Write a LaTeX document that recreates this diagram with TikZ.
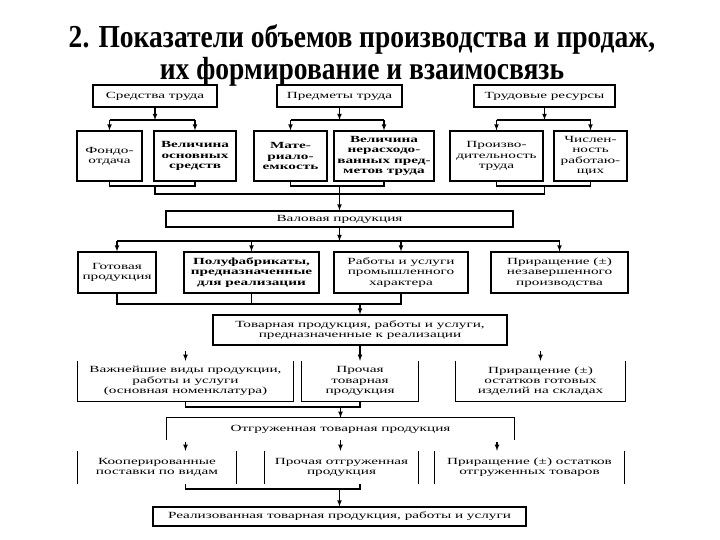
\documentclass[tikz,border=0pt]{standalone}
\usepackage{fontspec}
\setmainfont{Liberation Serif}
\newfontfamily\titlefont[FakeStretch=0.86]{Liberation Serif}
\newfontfamily\boxfont[FakeStretch=1.62]{Liberation Serif}
\usepackage{tikz}
\usetikzlibrary{arrows}

\begin{document}
\begin{tikzpicture}[x=1pt,y=-1pt,
		blk/.style={draw,line width=1.1pt,inner sep=1pt,align=center,font=\boxfont\fontsize{9.4}{10.3}\selectfont},
		blkb/.style={blk,font=\boxfont\bfseries\fontsize{9.4}{10.3}\selectfont},
		txt/.style={inner sep=1pt,align=center,font=\boxfont\fontsize{9.4}{10.3}\selectfont},
		arr/.style={->,>=latex,line width=1.1pt},
		ln/.style={line width=1.1pt}]
	
	\useasboundingbox (0,0) rectangle (720,540);
	\fill[white] (0,0) rectangle (720,540);
	
	\node[inner sep=0pt,align=center,font=\titlefont\bfseries\fontsize{32}{32}\selectfont] (title) at (362,55) {2. Показатели объемов производства и продаж,\\их формирование и взаимосвязь};
	
	\coordinate (bus1) at (0,120);
	\coordinate (lev2) at (0,186);
	\coordinate (gath) at (0,194);
	\coordinate (bus3) at (0,241);
	\coordinate (lev4) at (0,304);
	\coordinate (lev6) at (0,407);
	\coordinate (lev8) at (0,489);
	
	\begin{scope}
		\node[blk,minimum width=124pt,minimum height=22pt] (sredstva) at (155,96) {Средства труда};
		\node[blk,minimum width=125pt,minimum height=22pt] (predmety) at (339.5,96) {Предметы труда};
		\node[blk,minimum width=141pt,minimum height=22pt] (trud) at (544.5,96) {Трудовые ресурсы};
		
		\node[blk,minimum width=65pt,minimum height=50pt] (fondo) at (109.5,156) {Фондо-\\отдача};
		\node[blkb,minimum width=82pt,minimum height=50pt] (velosn) at (195,156) {Величина\\основных\\средств};
		\node[blkb,minimum width=73pt,minimum height=50pt] (mater) at (290.5,156) {Мате-\\риало-\\емкость};
		\node[blkb,minimum width=100pt,minimum height=50pt] (velner) at (384,156) {Величина\\нерасходо-\\ванных пред-\\метов труда};
		\node[blk,minimum width=93pt,minimum height=50pt] (proizv) at (496.5,156) {Произво-\\дительность\\труда};
		\node[blk,minimum width=73pt,minimum height=50pt] (chisl) at (590.5,156) {Числен-\\ность\\работаю-\\щих};
		
		\draw[arr] (sredstva) -- (sredstva |- bus1);
		\draw[ln] (fondo |- bus1) -- (velosn |- bus1);
		\draw[arr] (fondo |- bus1) -- (fondo);
		\draw[arr] (velosn |- bus1) -- (velosn);
		
		\draw[arr] (predmety) -- (predmety |- bus1);
		\draw[ln] (mater |- bus1) -- (velner |- bus1);
		\draw[arr] (mater |- bus1) -- (mater);
		\draw[arr] (velner |- bus1) -- (velner);
		
		\draw[arr] (trud) -- (trud |- bus1);
		\draw[ln] (proizv |- bus1) -- (chisl |- bus1);
		\draw[arr] (proizv |- bus1) -- (proizv);
		\draw[arr] (chisl |- bus1) -- (chisl);
		
		\draw[ln] (fondo) -- (fondo |- lev2) -- (velosn |- lev2) -- (velosn);
		\draw[ln] (mater) -- (mater |- lev2) -- (velner |- lev2) -- (velner);
		\draw[ln] (proizv) -- (proizv |- lev2) -- (chisl |- lev2) -- (chisl);
		\draw[ln] (sredstva |- lev2) -- (sredstva |- gath) -- (trud |- gath) -- (trud |- lev2);
		\draw[ln] (predmety |- lev2) -- (predmety |- gath);
	\end{scope}
	
	\node[blk,minimum width=347pt,minimum height=16pt] (val) at (339.5,219) {Валовая продукция};
	\draw[arr] (val |- gath) -- (val);
	
	\node[blk,minimum width=78pt,minimum height=41pt] (gotov) at (117,272.5) {Готовая\\продукция};
	\node[blkb,minimum width=135pt,minimum height=41pt] (polufab) at (251.5,272.5) {Полуфабрикаты,\\предназначенные\\для реализации};
	\node[blk,minimum width=134pt,minimum height=41pt] (raboty) at (401,272.5) {Работы и услуги\\промышленного\\характера};
	\node[blk,minimum width=137pt,minimum height=41pt] (prirnz) at (559.5,272.5) {Приращение (±)\\незавершенного\\производства};
	
	\draw[arr] (val) -- (val |- bus3);
	\draw[ln] (gotov |- bus3) -- (prirnz |- bus3);
	\draw[arr] (gotov |- bus3) -- (gotov);
	\draw[arr] (polufab |- bus3) -- (polufab);
	\draw[arr] (raboty |- bus3) -- (raboty);
	\draw[arr] (prirnz |- bus3) -- (prirnz);
	
	\node[blk,minimum width=294pt,minimum height=30pt] (tovar) at (360,330) {Товарная продукция, работы и услуги,\\предназначенные к реализации};
	\draw[ln] (gotov) -- (gotov |- lev4) -- (raboty |- lev4) -- (raboty);
	\draw[ln] (polufab) -- (polufab |- lev4);
	\draw[arr] (tovar |- lev4) -- (tovar);
	
	\node[txt,minimum width=215pt,minimum height=40pt] (vazhn) at (185.5,381) {Важнейшие виды продукции,\\работы и услуги\\(основная номенклатура)};
	\node[txt,minimum width=116pt,minimum height=40pt] (prochtov) at (360,381) {Прочая\\товарная\\продукция};
	\node[txt,minimum width=169pt,minimum height=40pt] (prirgot) at (540.5,381) {Приращение (±)\\остатков готовых\\изделий на складах};
	\draw[ln] (vazhn.north west) -- (vazhn.south west) -- (vazhn.south east) -- (vazhn.north east);
	\draw[ln] (prochtov.north west) -- (prochtov.south west) -- (prochtov.south east) -- (prochtov.north east);
	\draw[ln] (prirgot.north west) -- (prirgot.south west) -- (prirgot.south east) -- (prirgot.north east);
	
	\coordinate (v6) at (185.5,351);
	\coordinate (p6) at (540.5,351);
	\draw[arr] (v6) -- (vazhn);
	\draw[arr] (tovar) -- (prochtov);
	\draw[arr] (p6) -- (prirgot);
	
	\node[txt,minimum width=347pt,minimum height=22pt] (otgr) at (340.5,429) {Отгруженная товарная продукция};
	\draw[ln] (otgr.south west) -- (otgr.north west) -- (otgr.north east) -- (otgr.south east);
	\draw[ln] (vazhn) -- (vazhn |- lev6) -- (prochtov |- lev6) -- (prochtov);
	\draw[arr] (otgr |- lev6) -- (otgr);
	
	\node[txt,minimum width=158pt,minimum height=33pt] (koop) at (157,467.5) {Кооперированные\\поставки по видам};
	\node[txt,minimum width=153pt,minimum height=33pt] (prochotg) at (341.5,467.5) {Прочая отгруженная\\продукция};
	\node[txt,minimum width=189pt,minimum height=33pt] (prirotg) at (529.5,467.5) {Приращение (±) остатков\\отгруженных товаров};
	\draw[ln] (koop.north west) -- (koop.south west) (koop.north east) -- (koop.south east);
	\draw[ln] (prochotg.north west) -- (prochotg.south west) (prochotg.north east) -- (prochotg.south east);
	\draw[ln] (prirotg.north west) -- (prirotg.south west) (prirotg.north east) -- (prirotg.south east);
	
	\coordinate (k8) at (185.5,442);
	\coordinate (r8) at (497,442);
	\draw[arr] (k8) -- (k8 |- koop.north);
	\draw[arr] (otgr) -- (otgr |- prochotg.north);
	\draw[arr] (r8) -- (r8 |- prirotg.north);
	
	\node[blk,minimum width=373pt,minimum height=19pt] (real) at (339.5,516.5) {Реализованная товарная продукция, работы и услуги};
	\draw[ln] (koop.south -| vazhn) -- (vazhn |- lev8) -- (prochtov |- lev8) -- (prochtov |- prochotg.south);
	\draw[arr] (real |- lev8) -- (real);
	
\end{tikzpicture}
\end{document}
